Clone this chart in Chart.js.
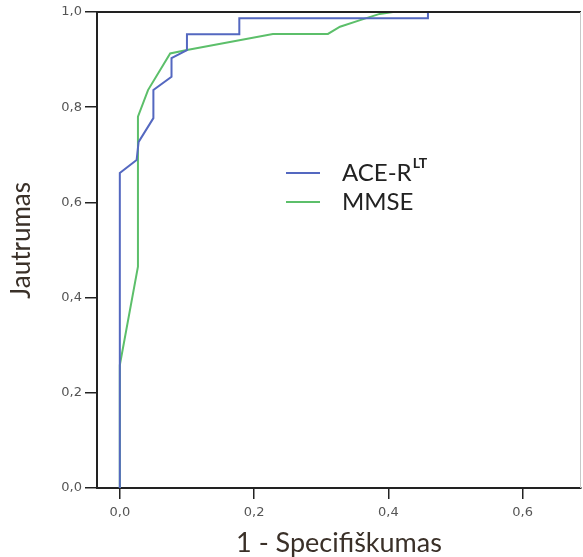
<!DOCTYPE html>
<html>
<head>
<meta charset="utf-8">
<script src="https://cdn.jsdelivr.net/npm/chart.js@4.4.1/dist/chart.umd.min.js"></script>
<style>
  html, body { margin: 0; padding: 0; background: #fff; }
</style>
</head>
<body>
<canvas id="myChart" width="583" height="557"></canvas>
<script>
// ROC curves (x = 1 - specificity, y = sensitivity)
var aceX = [0, 0, 0.025, 0.028, 0.050, 0.050, 0.077, 0.077, 0.100, 0.100, 0.178, 0.178, 0.459, 0.459, 1];
var aceY = [0, 0.662, 0.689, 0.727, 0.777, 0.836, 0.864, 0.903, 0.920, 0.953, 0.953, 0.987, 0.987, 1, 1];
var mmseX = [0, 0, 0.027, 0.027, 0.042, 0.075, 0.100, 0.228, 0.310, 0.328, 0.358, 0.387, 0.407, 1];
var mmseY = [0, 0.258, 0.465, 0.780, 0.836, 0.913, 0.920, 0.954, 0.954, 0.969, 0.983, 0.996, 1, 1];
var seriesNames = ["ACE-R", "MMSE"];
var seriesSup = ["LT", ""];
var xTicks = [0, 0.2, 0.4, 0.6];
var yTicks = [0, 0.2, 0.4, 0.6, 0.8, 1.0];

function pts(xs, ys) {
  return xs.map(function (x, i) { return { x: x, y: ys[i] }; });
}
function fmt(v) { return v.toFixed(1).replace('.', ','); }

var framePlugin = {
  id: 'frame',
  afterDatasetsDraw: function (chart) {
    var a = chart.chartArea, c = chart.ctx;
    c.save();
    c.strokeStyle = '#222';
    c.lineWidth = 2;
    c.beginPath(); c.moveTo(a.left, a.top); c.lineTo(a.right, a.top); c.stroke();
    c.strokeStyle = '#c8c8c8';
    c.lineWidth = 1;
    c.beginPath(); c.moveTo(a.right - 0.5, a.top); c.lineTo(a.right - 0.5, a.bottom); c.stroke();
    c.restore();
  }
};

var legendPlugin = {
  id: 'roclegend',
  afterDraw: function (chart, args, o) {
    var c = chart.ctx;
    c.save();
    chart.data.datasets.forEach(function (ds, i) {
      var y = o.rows[i];
      c.strokeStyle = ds.borderColor;
      c.lineWidth = 2;
      c.beginPath(); c.moveTo(o.lineX, y); c.lineTo(o.lineX + o.lineLen, y); c.stroke();
      c.fillStyle = '#222';
      c.textBaseline = 'middle';
      c.font = o.size + 'px Lato';
      c.fillText(seriesNames[i], o.textX, y);
      if (seriesSup[i]) {
        var w = c.measureText(seriesNames[i]).width;
        c.font = 'bold ' + o.supSize + 'px Lato';
        c.fillText(seriesSup[i], o.textX + w + 1, y - 10);
      }
    });
    c.restore();
  }
};

var ctx = document.getElementById("myChart");
var myChart = new Chart(ctx, {
  type: 'scatter',
  data: {
    datasets: [
      { label: seriesNames[0], data: pts(aceX, aceY), showLine: true, borderColor: '#5468c0', borderWidth: 2, pointRadius: 0, fill: false, tension: 0 },
      { label: seriesNames[1], data: pts(mmseX, mmseY), showLine: true, borderColor: '#5cbf6a', borderWidth: 2, pointRadius: 0, fill: false, tension: 0 }
    ]
  },
  options: {
    responsive: false,
    animation: false,
    layout: { padding: { top: 12, right: 2, left: 0, bottom: 0 } },
    plugins: {
      legend: { display: false },
      tooltip: { enabled: false },
      roclegend: { lineX: 286, lineLen: 34, textX: 342, rows: [173, 202], size: 24, supSize: 14 }
    },
    scales: {
      x: {
        type: 'linear',
        min: -0.034,
        max: 0.687,
        afterBuildTicks: function (s) { s.ticks = xTicks.map(function (v) { return { value: v }; }); },
        afterFit: function (s) { s.height = 69; },
        ticks: { callback: fmt, color: '#555', font: { family: 'DejaVu Sans', size: 13 }, padding: 6, maxRotation: 0, autoSkip: false },
        grid: { drawOnChartArea: false, tickLength: 11, color: '#222', lineWidth: 1.5 },
        border: { color: '#222', width: 2 },
        title: { display: true, text: '1 - Specifiškumas', color: '#3a3028', font: { family: 'Lato', size: 27, lineHeight: 1 }, padding: { top: -8, bottom: 0 } }
      },
      y: {
        type: 'linear',
        min: 0,
        max: 1,
        afterBuildTicks: function (s) { s.ticks = yTicks.map(function (v) { return { value: v }; }); },
        afterFit: function (s) { s.width = 97; },
        ticks: { callback: fmt, color: '#555', font: { family: 'DejaVu Sans', size: 13 }, padding: 3, autoSkip: false },
        grid: { drawOnChartArea: false, tickLength: 12, color: '#222', lineWidth: 1.5 },
        border: { color: '#222', width: 2 },
        title: { display: true, text: '\u00a0\u00a0\u00a0Jautrumas', color: '#3a3028', font: { family: 'Lato', size: 26, lineHeight: 1 }, padding: { top: 9, bottom: 0 } }
      }
    }
  },
  plugins: [framePlugin, legendPlugin]
});
</script>
</body>
</html>
